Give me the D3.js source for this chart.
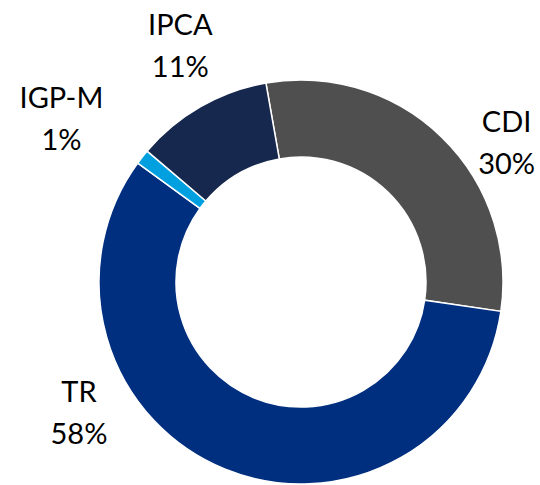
<!DOCTYPE html>
<html>
<head>
<meta charset="utf-8">
<script src="https://cdn.jsdelivr.net/npm/d3@7"></script>
<style>
  body { margin: 0; background: #ffffff; }
</style>
</head>
<body>
<div id="my_dataviz"></div>
<script>
var categories = ["CDI", "TR", "IGP-M", "IPCA"];
var shares = [30.1, 57.7, 1.2, 11.0];
var colors = ["#4f4f4f", "#002f80", "#00a0e0", "#16284d"];

// label placement around the ring: angle (degrees, clockwise from top) and distance from centre
var labelAngles = [56, 239.4, 304.3, 332.9];
var labelRadius = [248, 258, 290, 265];

var width = 540,
    height = 485,
    cx = 301,
    cy = 282,
    outerRadius = 202,
    innerRadius = 125;

var svg = d3.select("#my_dataviz")
  .append("svg")
    .attr("width", width)
    .attr("height", height)
  .append("g")
    .attr("transform", "translate(" + cx + "," + cy + ")");

var data = [];
for (var i = 0; i < categories.length; i++) {
  data[i] = {name: categories[i], val: shares[i], color: colors[i]};
}

// first slice starts a bit left of 12 o'clock
var start = -10 * Math.PI / 180;
var pie = d3.pie()
  .sort(null)
  .value(function(d) { return d.val; })
  .startAngle(start)
  .endAngle(start + 2 * Math.PI);

var arc = d3.arc()
  .innerRadius(innerRadius)
  .outerRadius(outerRadius);

svg.selectAll("path")
  .data(pie(data))
  .enter()
  .append("path")
    .attr("d", arc)
    .attr("fill", function(d) { return d.data.color; })
    .attr("stroke", "#ffffff")
    .attr("stroke-width", 1.5);

// two line labels: name and rounded percentage, centred on the anchor point
var labels = svg.selectAll(".lbl")
  .data(data)
  .enter()
  .append("text")
    .attr("class", "lbl")
    .attr("text-anchor", "middle")
    .style("font-family", "Lato, 'Open Sans', sans-serif")
    .style("font-size", "29px")
    .attr("fill", "#000000")
    .attr("transform", function(d, i) {
      var a = labelAngles[i] * Math.PI / 180;
      var x = Math.sin(a) * labelRadius[i];
      var y = -Math.cos(a) * labelRadius[i];
      return "translate(" + x + "," + y + ")";
    });

labels.append("tspan")
  .attr("x", 0)
  .attr("y", -11)
  .text(function(d) { return d.name; });

labels.append("tspan")
  .attr("x", 0)
  .attr("y", 31)
  .text(function(d) { return Math.round(d.val) + "%"; });
</script>
</body>
</html>
